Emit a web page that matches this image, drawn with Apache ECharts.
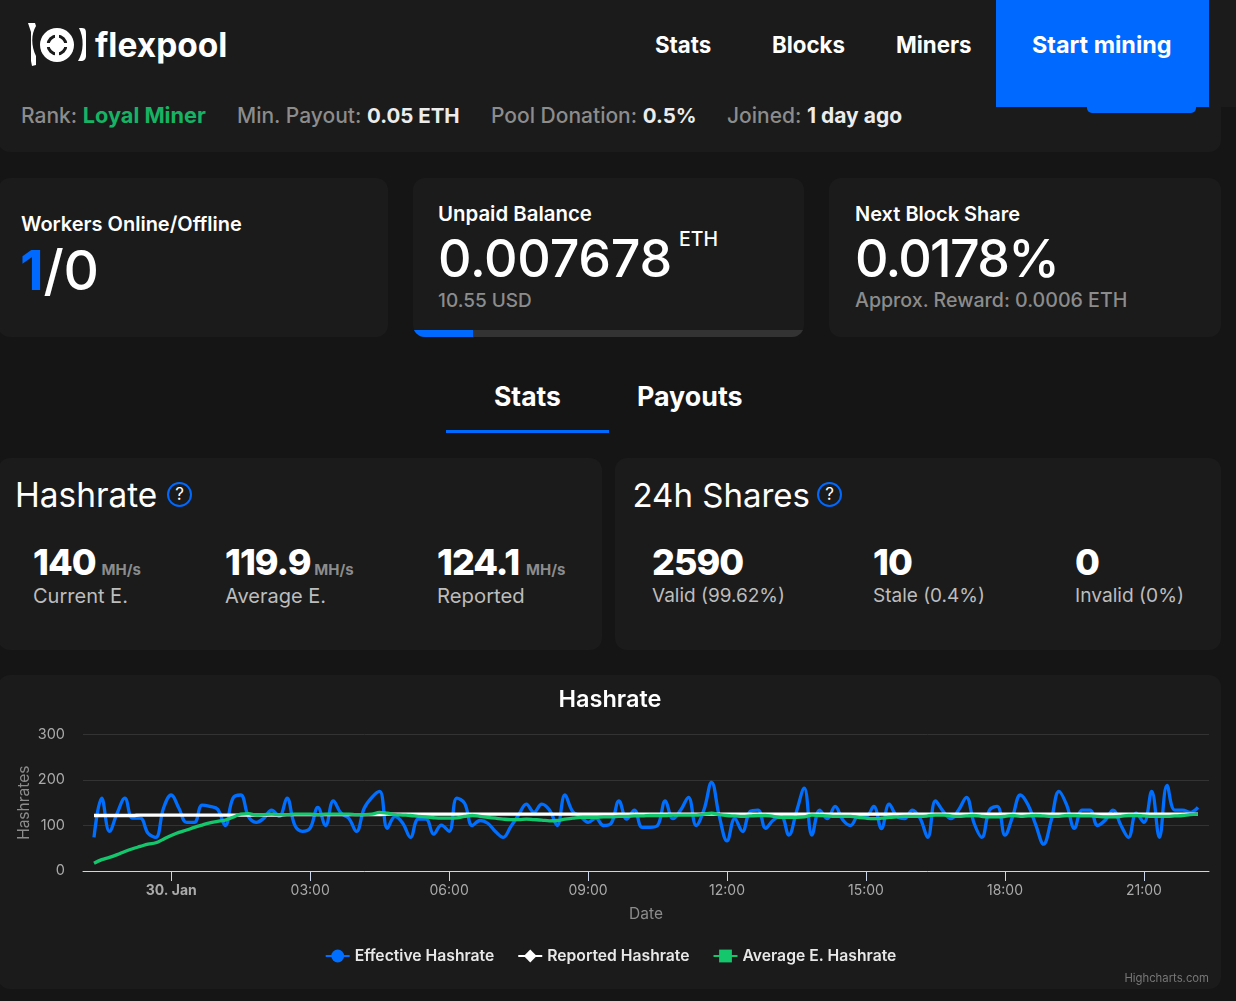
<!DOCTYPE html>
<html>
<head>
<meta charset="utf-8">
<title>flexpool</title>
<script src="https://cdn.jsdelivr.net/npm/echarts@6/dist/echarts.min.js"></script>
<style>
html,body{margin:0;padding:0;background:#151515;overflow:hidden;}
body{width:1236px;height:1001px;position:relative;font-family:Inter,sans-serif;color:#fff;}
.c{position:absolute;background:#1b1b1b;border-radius:12px;}
.t{position:absolute;white-space:nowrap;line-height:1;}
.g{color:#8c8c8c;font-weight:500;font-size:21px;}
.w{color:#ececec;font-weight:700;}
.big{font-weight:800;font-size:36px;letter-spacing:-1px;}
.unit{font-size:15px;font-weight:700;color:#8c8c8c;letter-spacing:0;}
.sub{font-size:19.5px;font-weight:400;color:#bdbdbd;}
.h3{font-size:33px;font-weight:400;}
.num{font-size:52px;font-weight:500;letter-spacing:-.25px;}
.q{position:absolute;width:21px;height:21px;border:2px solid #0069ff;border-radius:50%;text-align:center;line-height:21px;font-size:17px;color:#fff;}
</style>
</head>
<body>
<!-- top strip -->
<div class="c" style="left:-2px;top:60px;width:1223px;height:92px;"></div>
<div style="position:absolute;left:1087px;top:100px;width:109px;height:13px;background:#0069ff;border-radius:5px;"></div>
<div style="position:absolute;left:0;top:0;width:1236px;height:107px;background:#1b1b1b;"></div>
<div style="position:absolute;left:996px;top:0;width:213px;height:107px;background:#0069ff;"></div>
<svg style="position:absolute;left:26px;top:20px;" width="62" height="48" viewBox="0 0 62 48">
  <path d="M2 3h7l1 3c-5 8-5 20 0 30v9l-4 1-1-5V12z" fill="#fff"/>
  <circle cx="31" cy="25" r="17" fill="#fff"/>
  <path d="M53 8h3c4 0 4 3 4 6v22c0 3-2 5-5 5h-3c6-9 6-24 1-33z" fill="#fff"/>
  <circle cx="31" cy="25" r="9" fill="none" stroke="#1b1b1b" stroke-width="3"/>
  <path d="M31 14v7M31 29v7M20 25h7M35 25h7" stroke="#fff" stroke-width="4"/>
</svg>
<div class="t" style="left:95px;top:29px;font-size:33.5px;font-weight:700;">flexpool</div>
<div class="t" style="left:655px;top:34px;font-size:22.3px;font-weight:700;">Stats</div>
<div class="t" style="left:772px;top:34px;font-size:22.3px;font-weight:700;">Blocks</div>
<div class="t" style="left:896px;top:34px;font-size:22.3px;font-weight:700;">Miners</div>
<div class="t" style="left:1032px;top:33px;font-size:23.4px;font-weight:700;">Start mining</div>

<div class="t g" style="left:21px;top:105px;">Rank: <span style="color:#16b364;font-weight:700;font-size:21.7px;">Loyal Miner</span></div>
<div class="t g" style="left:237px;top:105px;">Min. Payout: <span class="w" style="font-size:20.5px;">0.05 ETH</span></div>
<div class="t g" style="left:491px;top:105px;">Pool Donation: <span class="w" style="font-size:20.5px;">0.5%</span></div>
<div class="t g" style="left:727px;top:105px;">Joined: <span class="w">1 day ago</span></div>

<!-- summary cards -->
<div class="c" style="left:-2px;top:178px;width:390px;height:159px;"></div>
<div class="c" style="left:413px;top:178px;width:391px;height:159px;overflow:hidden;">
  <div style="position:absolute;left:0;bottom:0;width:100%;height:7px;background:#333;"></div>
  <div style="position:absolute;left:0;bottom:0;width:60px;height:7px;background:#0069ff;"></div>
</div>
<div class="c" style="left:829px;top:178px;width:392px;height:159px;"></div>
<div class="t" style="left:21px;top:214px;font-size:20px;font-weight:600;">Workers Online/Offline</div>
<div class="t num" style="left:20px;top:243px;font-size:55px;"><span style="color:#0069ff;font-weight:700;">1</span>/0</div>
<div class="t" style="left:438px;top:204px;font-size:20.4px;font-weight:600;">Unpaid Balance</div>
<div class="t num" style="left:438px;top:233px;">0.007678</div>
<div class="t" style="left:679px;top:230px;font-size:19.5px;font-weight:500;">ETH</div>
<div class="t" style="left:438px;top:291px;font-size:19px;font-weight:500;color:#8c8c8c;">10.55 USD</div>
<div class="t" style="left:855px;top:204px;font-size:20px;font-weight:600;">Next Block Share</div>
<div class="t num" style="left:855px;top:233px;letter-spacing:-1.7px;">0.0178%</div>
<div class="t" style="left:855px;top:291px;font-size:19.6px;font-weight:500;color:#8c8c8c;">Approx. Reward: 0.0006 ETH</div>

<!-- tabs -->
<div class="t" style="left:494px;top:383px;font-size:26.5px;font-weight:700;">Stats</div>
<div class="t" style="left:637px;top:383px;font-size:26.8px;font-weight:700;">Payouts</div>
<div style="position:absolute;left:446px;top:430px;width:163px;height:3px;background:#0069ff;"></div>

<!-- hashrate / shares -->
<div class="c" style="left:-2px;top:458px;width:604px;height:192px;"></div>
<div class="c" style="left:615px;top:458px;width:606px;height:192px;"></div>
<div class="t h3" style="left:15px;top:479px;font-size:33.4px;">Hashrate</div>
<div class="q" style="left:167px;top:482px;">?</div>
<div class="t h3" style="left:632.5px;top:479px;">24h Shares</div>
<div class="q" style="left:817px;top:482px;">?</div>

<div class="t big" style="left:33px;top:544px;">140 <span class="unit" style="margin-left:-1px;">MH/s</span></div>
<div class="t sub" style="left:33px;top:586px;font-size:20px;">Current E.</div>
<div class="t big" style="left:225px;top:544px;">119.9 <span class="unit" style="margin-left:-3px;">MH/s</span></div>
<div class="t sub" style="left:225px;top:586px;font-size:20px;">Average E.</div>
<div class="t big" style="left:437px;top:544px;">124.1 <span class="unit" style="margin-left:0;">MH/s</span></div>
<div class="t sub" style="left:437px;top:586px;font-size:20.3px;">Reported</div>
<div class="t big" style="left:652px;top:544px;">2590</div>
<div class="t sub" style="left:652px;top:586px;font-size:19px;">Valid (99.62%)</div>
<div class="t big" style="left:873px;top:544px;">10</div>
<div class="t sub" style="left:873px;top:586px;font-size:19px;">Stale (0.4%)</div>
<div class="t big" style="left:1075px;top:544px;">0</div>
<div class="t sub" style="left:1075px;top:586px;font-size:19.2px;">Invalid (0%)</div>

<!-- chart -->
<div class="c" style="left:-2px;top:675px;width:1223px;height:314px;"></div>
<div id="hashrateChart" style="position:absolute;left:0;top:675px;width:1221px;height:314px;"></div>

<script>
// x is minutes from midnight 30 Jan, one sample every 10 min
var startMin = -100;
var stepMin = 10;

var effective = [74,160,87,127,160,116,116,83,74,138,167,138,107,107,145,142,136,100,160,167,120,107,116,134,
120,160,101,87,94,140,100,154,127,116,87,138,162,175,94,120,105,74,114,114,81,101,87,160,149,
100,111,105,87,74,98,123,147,129,147,134,100,167,131,120,107,116,100,105,154,114,134,96,96,
100,154,115,134,162,100,134,195,120,66,115,87,131,134,94,112,120,79,131,182,79,134,115,142,112,
100,120,120,142,93,147,120,115,134,116,74,154,131,115,134,162,105,74,134,142,79,120,167,145,
101,59,112,175,145,94,134,134,100,112,134,101,74,127,107,175,74,188,134,134,129,140];

var reported = [122,122,122,122,122,122,123,123,123,123,123,123,123,123,123,123,123,123,123,123,123,123,123,123,
123,124,124,124,124,124,124,124,124,124,124,124,124,124,125,125,125,125,125,125,125,125,125,125,125,
125,125,125,125,125,125,125,125,125,125,125,125,125,125,125,125,125,125,125,125,125,125,125,125,
125,125,125,125,125,125,125,125,125,125,125,125,125,125,125,125,125,125,125,125,125,125,125,125,125,
125,125,125,125,125,125,125,125,125,125,125,125,125,125,125,125,125,125,125,125,125,125,125,125,
125,125,125,125,125,125,125,125,125,125,125,125,125,125,125,125,125,125,125,125,125,125];

var average = [17,25,30,36,43,49,54,59,62,70,78,85,90,96,101,106,109,112,118,125,126,123,124,125,
124,124,125,125,125,124,125,125,125,125,124,124,125,129,127,124,123,122,120,119,117,116,116,117,120,
122,120,118,116,114,113,113,114,113,112,110,111,114,116,118,118,118,119,119,120,120,121,121,122,
122,122,123,123,123,123,125,127,124,122,121,120,121,122,122,120,118,118,118,119,123,122,121,120,120,
120,118,116,115,116,118,119,120,120,120,121,123,123,121,120,121,122,120,119,119,120,122,120,121,
122,121,120,120,122,122,121,121,120,119,119,120,122,122,121,120,120,120,121,122,124,125];

var tickValues = [0,180,360,540,720,900,1080,1260];
var tickLabels = ['30. Jan','03:00','06:00','09:00','12:00','15:00','18:00','21:00'];

function toPoints(vals){
  var out = [];
  for(var i=0;i<vals.length;i++){
    out.push([startMin + i*stepMin, vals[i]]);
  }
  return out;
}

var FONT = 'Inter, sans-serif';
var BLUE = '#006fff', GREEN = '#15c76c';

var myChart = echarts.init(document.getElementById('hashrateChart'));
var option = {
  animation: false,
  title: {
    text: 'Hashrate', left: 605, top: 8, textAlign: 'center',
    textStyle: {color:'#fff', fontFamily:FONT, fontSize:23.5, fontWeight:600}
  },
  legend: {
    left: 'center', top: 268, itemWidth: 24, itemHeight: 16, itemGap: 23,
    data: ['Effective Hashrate','Reported Hashrate','Average E. Hashrate'],
    textStyle: {color:'#e8e8e8', fontFamily:FONT, fontSize:15.7, fontWeight:600}
  },
  grid: {left:83, right:12, top:59.5, height:136.5},
  xAxis: {
    type: 'value',
    min: -114.25,
    max: 1344.3,
    name: 'Date', nameLocation: 'middle', nameGap: 35,
    nameTextStyle: {color:'#8c8c8c', fontFamily:FONT, fontSize:15.5},
    axisLine: {onZero:false, lineStyle:{color:'#ccd6eb', width:1}},
    axisTick: {show:true, length:10, customValues:tickValues, lineStyle:{color:'#ccd6eb'}},
    axisLabel: {
      customValues: tickValues, color:'#aaaaaa', fontFamily:FONT, fontSize:14, margin:13,
      hideOverlap:false,
      formatter: function(v){
        var s = tickLabels[tickValues.indexOf(v)];
        return v === tickValues[0] ? '{b|'+s+'}' : s;
      },
      rich: {b:{fontWeight:700, color:'#aaaaaa', fontFamily:FONT, fontSize:14}}
    },
    splitLine: {show:false}
  },
  yAxis: {
    type: 'value', min:0, max:300, interval:100,
    name: 'Hashrates', nameLocation:'middle', nameGap:51, nameRotate:90, nameMoveOverlap:false,
    nameTextStyle: {color:'#8c8c8c', fontFamily:FONT, fontSize:15.5},
    axisLine: {show:false}, axisTick: {show:false},
    axisLabel: {color:'#aaaaaa', fontFamily:FONT, fontSize:14.5, margin:18},
    splitLine: {lineStyle:{color:'#333333', width:1}}
  },
  graphic: [{
    type:'text', right:12, top:298,
    style:{text:'Highcharts.com', fill:'#777777', font:'11.3px '+FONT}
  }],
  series: [{
    name:'Effective Hashrate', type:'line', smooth:0.4, symbol:'circle', symbolSize:11, showSymbol:false,
    data: toPoints(effective), lineStyle:{color:BLUE,width:3.3}, itemStyle:{color:BLUE}, z:2
  },{
    name:'Reported Hashrate', type:'line', smooth:0.4, symbol:'diamond', symbolSize:11, showSymbol:false,
    data: toPoints(reported), lineStyle:{color:'#ffffff',width:3.3}, itemStyle:{color:'#ffffff'}, z:3
  },{
    name:'Average E. Hashrate', type:'line', smooth:0.4, symbol:'rect', symbolSize:11, showSymbol:false,
    data: toPoints(average), lineStyle:{color:GREEN,width:3.3}, itemStyle:{color:GREEN}, z:4
  }]
};
myChart.setOption(option);
</script>
</body>
</html>
